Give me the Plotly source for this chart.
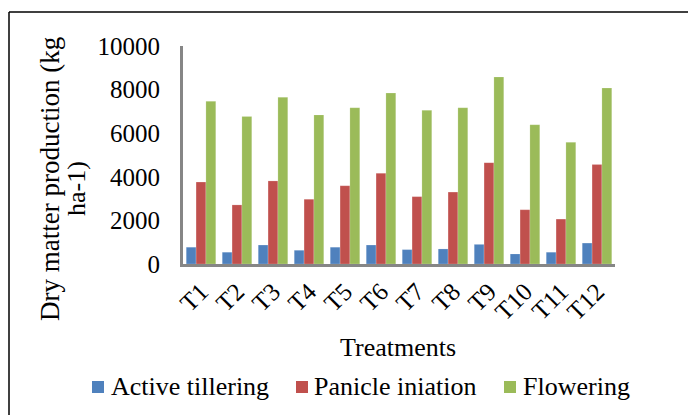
import plotly.graph_objects as go

categories = ["T1", "T2", "T3", "T4", "T5", "T6", "T7", "T8", "T9", "T10", "T11", "T12"]
active_tillering = [770, 540, 870, 630, 770, 870, 660, 690, 900, 460, 540, 960]
panicle_initiation = [3760, 2710, 3810, 2970, 3590, 4160, 3090, 3300, 4650, 2490, 2060, 4560]
flowering = [7460, 6770, 7650, 6840, 7170, 7840, 7050, 7170, 8580, 6390, 5580, 8070]
series_names = ["Active tillering", "Panicle iniation", "Flowering"]
colors = ["#4F81BD", "#C0504D", "#9BBB59"]
y_ticks = [0, 2000, 4000, 6000, 8000, 10000]
y_tick_labels = ["0", "2000", "4000", "6000", "8000", "10000"]

FONT = "Liberation Serif, Times New Roman, serif"

W, H = 688, 415
L, R, T, B = 183, 73, 46, 151
pw, ph = W - L - R, H - T - B


def px(x):
    return (x - L) / pw


def py(y):
    return (H - B - y) / ph


fig = go.Figure()
for name, vals, col in zip(series_names, [active_tillering, panicle_initiation, flowering], colors):
    fig.add_trace(go.Bar(
        x=categories, y=vals, name=name,
        marker=dict(color=col, line=dict(color="rgba(255,255,255,0.35)", width=0.5)),
    ))

# legend drawn as small squares + labels (positions in pixels of the figure)
legend_square_left = [92, 296, 504]
legend_text_left = [109, 312, 521]
legend_y = 387

annotations = [
    dict(text="Dry matter production (kg", x=px(50), y=py(179), xref="paper", yref="paper",
         showarrow=False, textangle=-90, xanchor="center", yanchor="middle",
         font=dict(family=FONT, size=27, color="black")),
    dict(text="ha-1)", x=px(76), y=py(189), xref="paper", yref="paper",
         showarrow=False, textangle=-90, xanchor="center", yanchor="middle",
         font=dict(family=FONT, size=26, color="black")),
    dict(text="Treatments", x=px(398), y=py(347), xref="paper", yref="paper",
         showarrow=False, xanchor="center", yanchor="middle",
         font=dict(family=FONT, size=26, color="black")),
]
shapes = [
    dict(type="line", xref="paper", yref="paper", x0=px(9), x1=px(9), y0=py(12), y1=py(420),
         line=dict(color="black", width=1.5)),
    dict(type="line", xref="paper", yref="paper", x0=px(9), x1=px(700), y0=py(12), y1=py(12),
         line=dict(color="black", width=1.5)),
]
for name, col, sx, tx in zip(series_names, colors, legend_square_left, legend_text_left):
    shapes.append(dict(type="rect", xref="paper", yref="paper",
                       x0=px(sx), x1=px(sx + 12), y0=py(legend_y - 6), y1=py(legend_y + 6),
                       fillcolor=col, line=dict(width=0)))
    annotations.append(dict(text=name, x=px(tx), y=py(legend_y), xref="paper", yref="paper",
                            showarrow=False, xanchor="left", yanchor="middle",
                            font=dict(family=FONT, size=26, color="black")))

fig.update_layout(
    width=W, height=H,
    margin=dict(l=L, r=R, t=T, b=B, autoexpand=False),
    paper_bgcolor="white", plot_bgcolor="white",
    barmode="group", bargap=0.18, bargroupgap=0,
    font=dict(family=FONT, color="black", size=26),
    showlegend=False,
    xaxis=dict(
        showline=True, linecolor="#868686", linewidth=3, ticks="",
        tickangle=-45, tickfont=dict(family=FONT, size=25, color="black"),
        showgrid=False, zeroline=False,
    ),
    yaxis=dict(
        range=[0, 10000], tickvals=y_ticks, ticktext=y_tick_labels, showline=True,
        linecolor="#868686", linewidth=3, ticks="", showgrid=False, zeroline=False,
        tickfont=dict(family=FONT, size=25, color="black"),
        ticklabelstandoff=15,
    ),
    annotations=annotations,
    shapes=shapes,
)

fig.write_html(
    "out.html",
    config={"displayModeBar": False},
    post_script="document.body.style.margin='0';document.body.style.overflow='hidden';",
)
